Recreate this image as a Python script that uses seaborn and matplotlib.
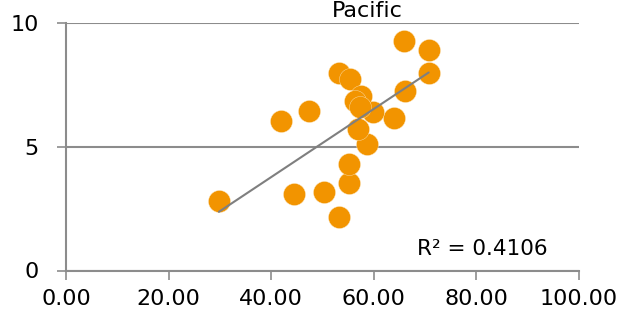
import pandas as pd
import matplotlib
matplotlib.use("Agg")
import matplotlib.pyplot as plt
import seaborn as sns

# Values
x_vals = [29.8, 42.0, 47.3, 44.5, 50.2, 53.2, 55.2, 55.2, 58.6, 56.9, 63.9,
          59.8, 65.8, 70.7, 70.7, 53.2, 55.4, 66.0, 57.5, 56.3, 57.3]
y_vals = [2.82, 6.05, 6.45, 3.08, 3.16, 2.18, 3.55, 4.30, 5.11, 5.74, 6.16,
          6.42, 9.28, 8.93, 7.99, 7.99, 7.75, 7.26, 7.06, 6.86, 6.63]
title = "Pacific"
r2_label = "R² = 0.4106"
x_ticks = [0, 20, 40, 60, 80, 100]
y_ticks = [0, 5, 10]

data = pd.DataFrame({"x": x_vals, "y": y_vals})

sns.set_style("white")
plt.rcParams["font.family"] = ["DejaVu Sans"]
plt.rcParams["text.color"] = "black"

orange = "#F29400"
grey = "#8C8C8C"

fig = plt.figure(figsize=(6.2, 3.27), dpi=100)
ax = fig.add_axes([66 / 620, 1 - 270.5 / 327, 513 / 620, 247.2 / 327])

ax.grid(axis="y", color=grey, linewidth=1.5)
ax.set_axisbelow(True)

sns.scatterplot(data=data, x="x", y="y", ax=ax, color=orange, s=250,
                edgecolor="#FBE2B5", linewidth=0.3, zorder=3)
sns.regplot(data=data, x="x", y="y", ax=ax, scatter=False, ci=None,
            truncate=True, line_kws={"color": "#7F7F7F", "linewidth": 1.5,
                                     "zorder": 4})

ax.set_xlim(0, 100)
ax.set_ylim(0, 10)
ax.set_xticks(x_ticks)
ax.set_xticklabels([f"{v:.2f}" for v in x_ticks])
ax.set_yticks(y_ticks)
ax.set_xlabel("")
ax.set_ylabel("")

for side in ["top", "right"]:
    ax.spines[side].set_visible(False)
for side in ["left", "bottom"]:
    ax.spines[side].set_color(grey)
    ax.spines[side].set_linewidth(1.5)

ax.tick_params(axis="x", length=6.5, width=1.2, color=grey, pad=7,
               labelsize=16, labelcolor="black", direction="out", bottom=True)
ax.tick_params(axis="y", length=6.5, width=1.2, color=grey, pad=13,
               labelsize=16, labelcolor="black", direction="out", left=True)

ax.text(0.684, 0.063, r2_label, transform=ax.transAxes, fontsize=15.5,
        ha="left", va="baseline", color="black")
fig.text(367 / 620, 1 - 17 / 327, title, fontsize=16, ha="center",
         va="baseline", color="black")

fig.savefig("out.png", dpi=100)
